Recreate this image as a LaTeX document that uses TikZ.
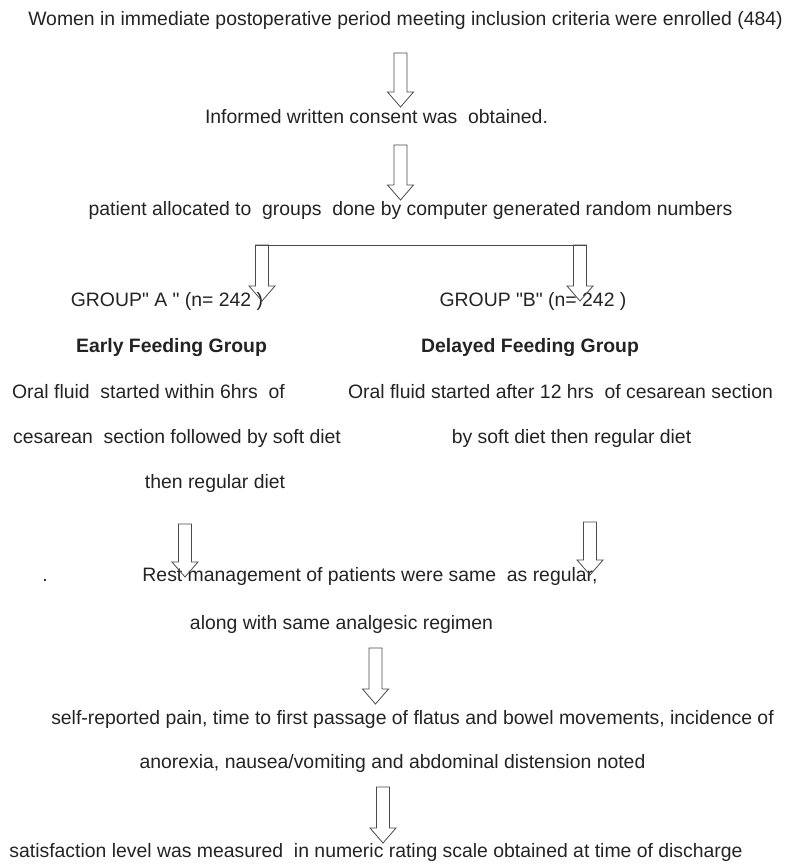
\documentclass[tikz,border=0pt]{standalone}
\usepackage{fontspec}
\setmainfont{Liberation Sans}
\usetikzlibrary{calc}
\definecolor{txt}{RGB}{35,35,35}
\definecolor{arr}{RGB}{75,75,75}
\tikzset{
  lbl/.style={inner sep=0pt, font=\fontsize{19.4}{23}\selectfont, text=txt, text height=0.72em, text depth=0.21em, anchor=center},
  bold/.style={lbl, font=\fontsize{19.4}{23}\selectfont\bfseries},
  blockarr/.style={draw=arr, line width=0.8pt, line join=miter},
}
\newcommand\blockarrow[2]{%
  \draw[blockarr] let \p1=(#1), \p2=(#2) in
   (\x1-6.5pt,\y1) -- (\x1+6.5pt,\y1) -- (\x1+6.5pt,\y2+15pt) -- (\x1+13pt,\y2+15pt)
   -- (\x1,\y2) -- (\x1-13pt,\y2+15pt) -- (\x1-6.5pt,\y2+15pt) -- cycle;}
\newcommand\qd{\textquotedbl}
\begin{document}
\begin{tikzpicture}[x=1pt,y=-1pt]
\useasboundingbox (0,0) rectangle (794,868);

% texts
\node[lbl] (t1) at (405.5,23) {Women in immediate postoperative period meeting inclusion criteria were enrolled (484)};
\node[lbl] (t2) at (376.5,121) {Informed written consent was\ \ obtained.};
\node[lbl] (t3) at (410.5,213) {patient allocated to\ \ groups\ \ done by computer generated random numbers};
\node[lbl] (ga) at (167,304) {GROUP\qd{} A \qd{} (n= 242 )};
\node[lbl] (gb) at (533,304) {GROUP \qd{}B\qd{} (n= 242 )};
\node[bold] (ea) at (171.5,350) {Early Feeding Group};
\node[bold] (de) at (530,350) {Delayed Feeding Group};
\node[lbl] (la1) at (148.5,396) {Oral fluid\ \ started within 6hrs\ \ of};
\node[lbl] (ra1) at (560.5,396) {Oral fluid started after 12 hrs\ \ of cesarean section};
\node[lbl] (la2) at (177,441) {cesarean\ \ section followed by soft diet};
\node[lbl] (ra2) at (571.5,441) {by soft diet then regular diet};
\node[lbl] (la3) at (215,486) {then regular diet};
\node[lbl] (dot) at (45,579) {.};
\node[lbl] (r1) at (370,579) {Rest management of patients were same\ \ as regular,};
\node[lbl] (r2) at (341.5,627) {along with same analgesic regimen};
\node[lbl] (s1) at (412.5,722) {self-reported pain, time to first passage of flatus and bowel movements, incidence of};
\node[lbl] (s2) at (392.5,766) {anorexia, nausea/vomiting and abdominal distension noted};
\node[lbl] (f1) at (376,855) {satisfaction level was measured\ \ in numeric rating scale obtained at time of discharge};

% arrow end points
\coordinate (a1s) at (400.5,53);  \coordinate (a1e) at (400.5,107);
\coordinate (a2s) at (400.5,145); \coordinate (a2e) at (400.5,200);
\coordinate (bl) at (255.5,245);  \coordinate (br) at (586.5,245);
\coordinate (a3s) at (262,245);   \coordinate (a3e) at (262,301);
\coordinate (a4s) at (580,245);   \coordinate (a4e) at (580,301);
\coordinate (a5s) at (185,524);   \coordinate (a5e) at (185,577);
\coordinate (a6s) at (590,522);   \coordinate (a6e) at (590,575);
\coordinate (a7s) at (375.5,648); \coordinate (a7e) at (375.5,704);
\coordinate (a8s) at (383,787);   \coordinate (a8e) at (383,843);

\blockarrow{a1s}{a1e}
\blockarrow{a2s}{a2e}
\draw[blockarr] (bl) -- (br);
\blockarrow{a3s}{a3e}
\blockarrow{a4s}{a4e}
\blockarrow{a5s}{a5e}
\blockarrow{a6s}{a6e}
\blockarrow{a7s}{a7e}
\blockarrow{a8s}{a8e}
\end{tikzpicture}
\end{document}
